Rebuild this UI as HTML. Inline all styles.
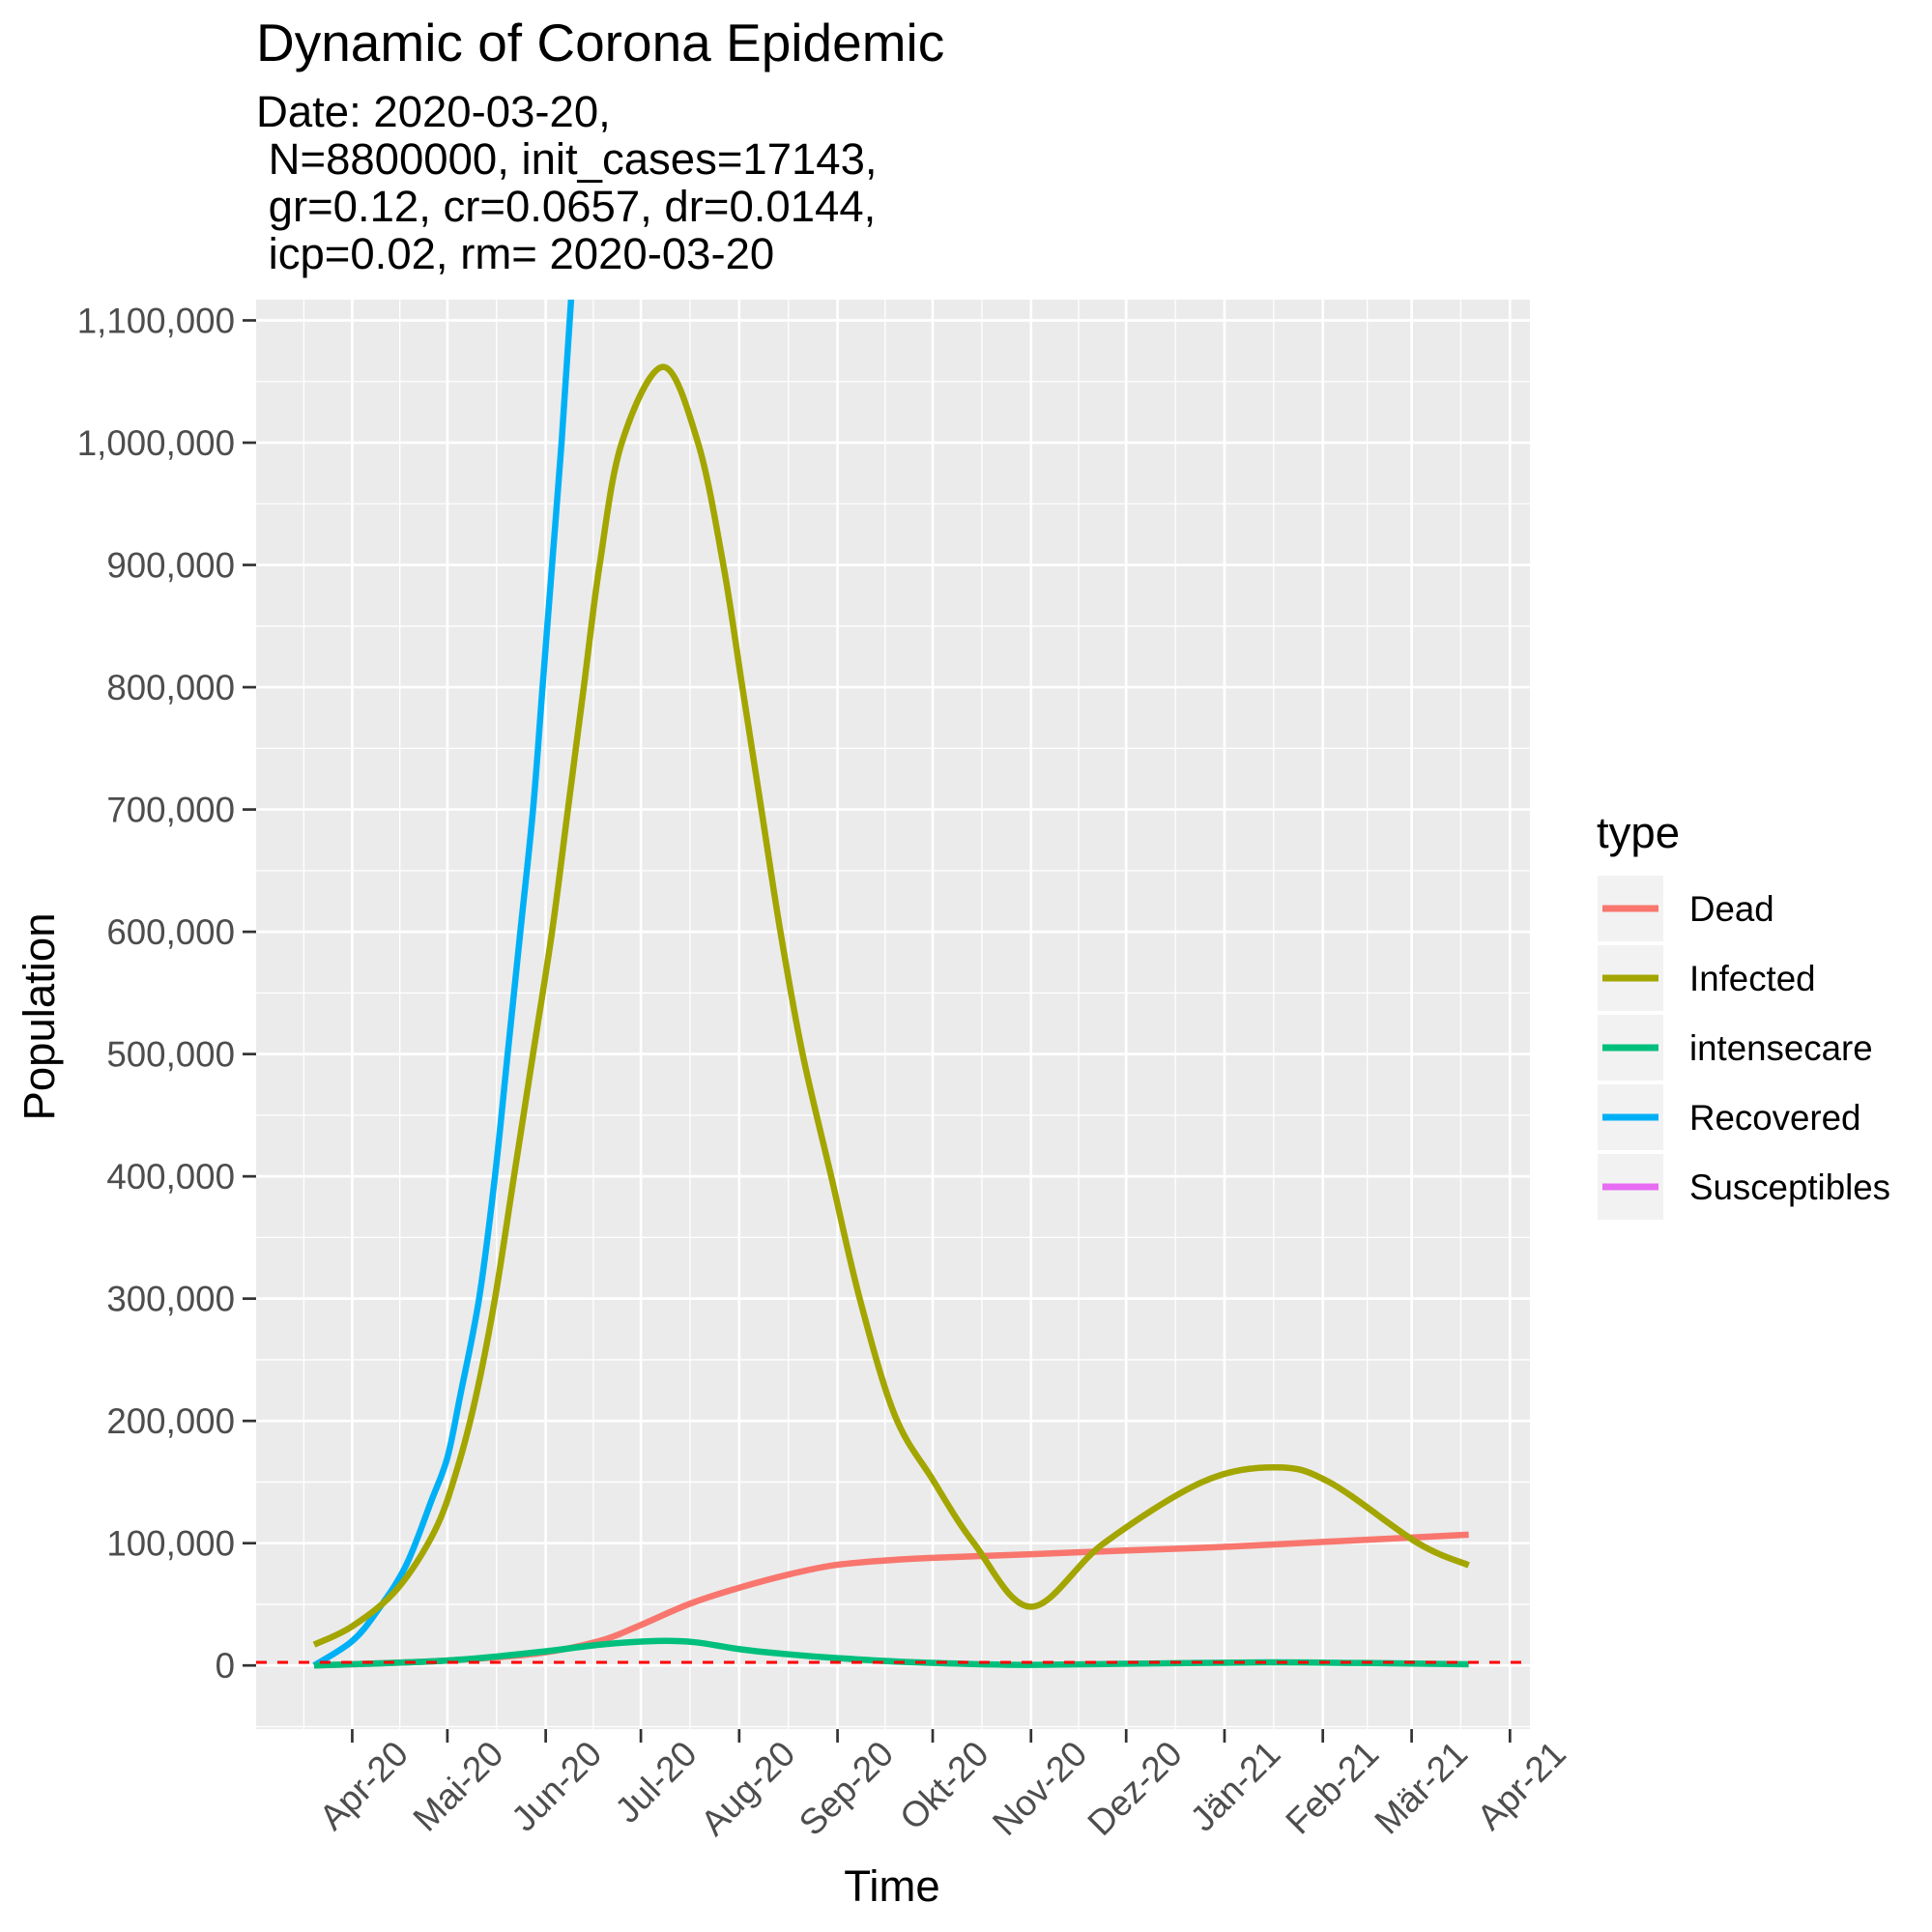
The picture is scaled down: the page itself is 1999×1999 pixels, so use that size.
<!DOCTYPE html>
<html><head><meta charset="utf-8"><style>
html,body{margin:0;padding:0;background:#fff;}
svg{display:block;font-family:"Liberation Sans",Arial,sans-serif;}
</style></head><body>
<svg id="chart" width="1999" height="1999" viewBox="0 0 1999 1999" xmlns="http://www.w3.org/2000/svg">
<text x="265" y="63" font-size="55" fill="#000">Dynamic of Corona Epidemic</text>
<g font-size="45.5" fill="#000">
<text x="265" y="131">Date: 2020-03-20,</text>
<text x="265" y="180" xml:space="preserve"> N=8800000, init_cases=17143,</text>
<text x="265" y="229" xml:space="preserve"> gr=0.12, cr=0.0657, dr=0.0144,</text>
<text x="265" y="278" xml:space="preserve"> icp=0.02, rm= 2020-03-20</text>
</g>
<rect x="265" y="310" width="1318" height="1479" fill="#EBEBEB"/>
<g id="grid"></g>
<g id="series"></g>
<g id="axes"></g>
<text x="923" y="1967" font-size="45.5" text-anchor="middle" fill="#000">Time</text>
<text transform="translate(56,1052) rotate(-90)" font-size="45.5" text-anchor="middle" fill="#000">Population</text>
<g id="legend">
<text x="1652" y="877" font-size="45.5" fill="#000">type</text>
</g>
</svg>
<script>
const seriesNames = ["Dead","Infected","intensecare","Recovered","Susceptibles"];
const seriesColors = ["#F8766D","#A3A500","#00BF7D","#00B0F6","#E76BF3"];
// days since 2020-03-20
const deadDays = [0,12,42,71,90,102,118,132,149,164,181,195,226,256,287,318,364];
const deadVals = [0,1000,4000,10000,20000,32000,50000,62000,74000,82000,86000,88000,91000,94000,97000,101000,107000];
const infDays = [0,12,26,38,45,51,57,63,69,75,80,85,90,97,110,121,129,135,141,147,154,163,172,183,195,208,226,249,280,303,320,348,364];
const infVals = [17000,32000,62000,110000,160000,220000,300000,400000,500000,600000,700000,800000,900000,1000000,1062000,1000000,900000,800000,700000,600000,500000,400000,300000,205000,152000,100000,48000,100000,150000,162000,150000,100000,82000];
const icuDays = [0,42,71,90,108,120,135,150,165,185,210,226,260,300,330,364];
const icuVals = [0,4000,11000,17000,20000,19000,13000,9000,6000,3000,1000,500,1500,2500,2000,1000];
const recDays = [0,12,20,29,37,42,46,52,57,61,65,69,72,75,78,81,84];
const recVals = [0,20000,45000,82000,135000,170000,220000,300000,400000,500000,600000,700000,800000,900000,1000000,1117000,1250000];
const yTicks = [0,100000,200000,300000,400000,500000,600000,700000,800000,900000,1000000,1100000];
const xTickDays = [12,42,73,103,134,165,195,226,256,287,318,346,377];
const xTickLabels = ["Apr-20","Mai-20","Jun-20","Jul-20","Aug-20","Sep-20","Okt-20","Nov-20","Dez-20","Jän-21","Feb-21","Mär-21","Apr-21"];
const icuCapacity = 2500;

const PL=265, PR=1583, PT=310, PB=1789;
const X0=-18.3, X1=383.3, Y0=-52000, Y1=1117000;
const xs = d => PL + (d - X0) / (X1 - X0) * (PR - PL);
const ys = v => PB - (v - Y0) / (Y1 - Y0) * (PB - PT);
const NS = "http://www.w3.org/2000/svg";
function mk(tag, attrs, parent){ const e=document.createElementNS(NS,tag); for(const k in attrs) e.setAttribute(k,attrs[k]); parent.appendChild(e); return e; }

const grid=document.getElementById('grid');
for(let i=0;i<yTicks.length;i++){
  const y=ys(yTicks[i]);
  const l=mk('line',{x1:PL,x2:PR,y1:y,y2:y,stroke:'#fff','stroke-width':2.7},grid);
  
  
}
for(let i=-1;i<yTicks.length;i++){
  const v=(i<0? -50000 : yTicks[i]+50000);
  const y=ys(v); if(y<PT||y>PB) continue;
  const l=mk('line',{x1:PL,x2:PR,y1:y,y2:y,stroke:'#fff','stroke-width':1.3},grid);
  
  
}
for(let i=0;i<xTickDays.length;i++){
  const x=xs(xTickDays[i]);
  const l=mk('line',{x1:x,x2:x,y1:PT,y2:PB,stroke:'#fff','stroke-width':2.7},grid);
  
  
  const prev = i===0 ? xTickDays[0]-30.5 : xTickDays[i-1];
  const xm=xs((prev+xTickDays[i])/2);
  if(xm>PL){
    const m=mk('line',{x1:xm,x2:xm,y1:PT,y2:PB,stroke:'#fff','stroke-width':1.3},grid);
    
    
  }
}
const lastMinor=xs(xTickDays[xTickDays.length-1]+15);
if(lastMinor<PR){const m=mk('line',{x1:lastMinor,x2:lastMinor,y1:PT,y2:PB,stroke:'#fff','stroke-width':1.3},grid);

}

const ser=document.getElementById('series');
const cp=mk('clipPath',{id:'clip'},ser);
mk('rect',{x:PL,y:PT,width:PR-PL,height:PB-PT},cp);
function pathFor(days,vals){
  const p=days.map((d,i)=>[xs(d),ys(vals[i])]);
  let s='M'+p[0][0]+','+p[0][1];
  for(let i=0;i<p.length-1;i++){
    const p0=p[Math.max(0,i-1)],p1=p[i],p2=p[i+1],p3=p[Math.min(p.length-1,i+2)];
    const c1=[p1[0]+(p2[0]-p0[0])/6,p1[1]+(p2[1]-p0[1])/6];
    const c2=[p2[0]-(p3[0]-p1[0])/6,p2[1]-(p3[1]-p1[1])/6];
    s+=' C'+c1[0]+','+c1[1]+' '+c2[0]+','+c2[1]+' '+p2[0]+','+p2[1];
  }
  return s;
}
const sData=[[deadDays,deadVals],[infDays,infVals],[icuDays,icuVals],[recDays,recVals]];
const sNames=['dead-line','infected-line','intensecare-line','recovered-line'];
[3,0,1,2].forEach(i=>{
  const p=mk('path',{d:pathFor(sData[i][0],sData[i][1]),fill:'none',stroke:seriesColors[i],'stroke-width':6.5,'clip-path':'url(#clip)','stroke-linejoin':'round'},ser);
  
  
});
const hl=mk('line',{x1:PL,x2:PR,y1:ys(icuCapacity),y2:ys(icuCapacity),stroke:'#FF0000','stroke-width':3,'stroke-dasharray':'11 11'},ser);



const ax=document.getElementById('axes');
for(let i=0;i<yTicks.length;i++){
  const y=ys(yTicks[i]);
  const t=mk('line',{x1:PL-14,x2:PL,y1:y,y2:y,stroke:'#333','stroke-width':2.7},ax);
  
  
  const tx=mk('text',{x:PL-22,y:y+13,'font-size':36.7,'text-anchor':'end',fill:'#4D4D4D'},ax);
  tx.textContent=yTicks[i].toLocaleString('en-US');
  
  
}
for(let i=0;i<xTickDays.length;i++){
  const x=xs(xTickDays[i]);
  const t=mk('line',{x1:x,x2:x,y1:PB,y2:PB+14,stroke:'#333','stroke-width':2.7},ax);
  
  
  const tx=mk('text',{transform:'translate('+(x+60)+','+(PB+28)+') rotate(-45)','font-size':37,'text-anchor':'end',fill:'#4D4D4D'},ax);
  tx.textContent=xTickLabels[i];
  
  
}

const lg=document.getElementById('legend');
for(let i=0;i<seriesNames.length;i++){
  const top=906+i*72;
  const r=mk('rect',{x:1653,y:top,width:68,height:68,fill:'#F2F2F2'},lg);
  
  
  const l=mk('line',{x1:1658,x2:1716,y1:top+34,y2:top+34,stroke:seriesColors[i],'stroke-width':7},lg);
  
  
  const t=mk('text',{x:1748,y:top+47,'font-size':36.7,fill:'#000'},lg);
  t.textContent=seriesNames[i];
  
  
}
</script>
</body></html>
